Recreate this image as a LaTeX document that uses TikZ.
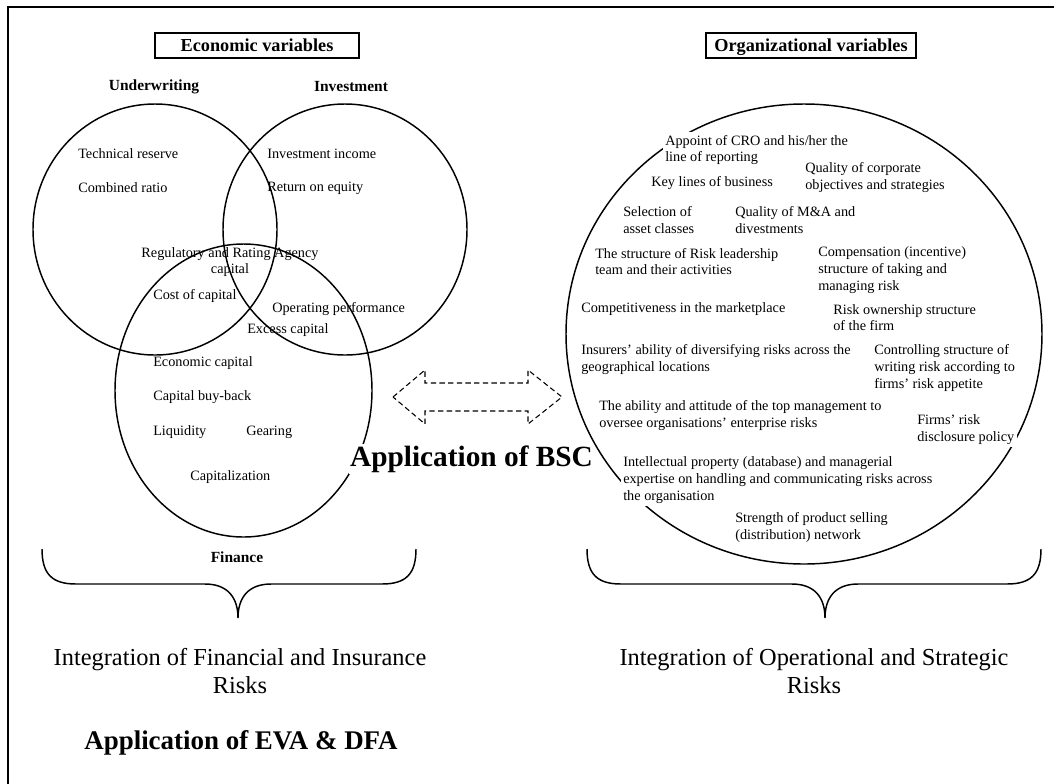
\documentclass[tikz,border=0pt]{standalone}
\usepackage{fontspec}
\setmainfont{Liberation Serif}
\usetikzlibrary{positioning}
\newcommand{\DrawBrace}[3]{
    \draw[braceLine] (#1,549) .. controls (#1,574) and (#1+10,584) .. (#1+34,584)
        -- (#2-33,584) .. controls (#2-10,584) and (#2,598) .. (#2,618)
        .. controls (#2,598) and (#2+10,584) .. (#2+33,584)
        -- (#3-34,584) .. controls (#3-10,584) and (#3,574) .. (#3,549);
}
\tikzset{
    % Common
    pxPic/.style={x=0.75pt, y=-0.75pt},
    frameLine/.style={line width=1.4pt},
    vennLine/.style={line width=1.1pt},
    braceLine/.style={line width=1.1pt},
    bscArrow/.style={line width=0.8pt, dash pattern=on 4pt off 2.5pt},
    % Text styles
    headBox/.style={draw, line width=1.1pt, font=\bfseries\fontsize{13.7}{16}\selectfont,
        minimum height=18.75pt, inner sep=0pt, text height=11pt, text depth=2.2pt},
    groupLabel/.style={font=\bfseries\fontsize{11.6}{14}\selectfont, inner sep=0pt},
    varText/.style={font=\fontsize{10.7}{12.5}\selectfont, anchor=west, align=left, inner sep=0pt},
    orgText/.style={varText, fill=white, inner sep=2pt, xshift=-2pt},
    riskText/.style={font=\fontsize{18.3}{21}\selectfont, align=center, inner sep=0pt},
    appText/.style={font=\bfseries\fontsize{20.2}{24}\selectfont, inner sep=0pt}
}
\begin{document}
\begin{tikzpicture}[pxPic]
    \useasboundingbox (0,0) rectangle (1054,783);
    % Outer frame (cut by the page)
    \draw[frameLine] (8,7) rectangle (1070,800);

    % Economic variables
    \node[headBox, minimum width=153pt] (econHead) at (257,45.5) {Economic variables};
    \draw[vennLine] (155,229.5) ellipse [x radius=122, y radius=125.5];
    \draw[vennLine] (345,229.5) ellipse [x radius=122, y radius=125.5];
    \draw[vennLine] (243.5,390.5) ellipse [x radius=128.5, y radius=146.5];
    \node[groupLabel] (underLabel) at (154,87) {Underwriting};
    \node[groupLabel] (investLabel) at (351,87) {Investment};
    \node[groupLabel] (financeLabel) at (237,557) {Finance};

    \node[varText] (techReserve) at (78,154) {Technical reserve};
    \node[varText] (combRatio) at (78,188) {Combined ratio};
    \node[varText] (investIncome) at (267,154) {Investment income};
    \node[varText] (returnEquity) at (267,188) {Return on equity};
    \node[varText, anchor=center, align=center] (regCapital) at (230,262) {Regulatory and Rating Agency\\capital};
    \node[varText] (costCapital) at (153,296) {Cost of capital};
    \node[varText] (operPerf) at (272,309) {Operating performance};
    \node[varText] (excessCapital) at (247,330) {Excess capital};
    \node[varText] (econCapital) at (153,363) {Economic capital};
    \node[varText] (buyBack) at (153,397) {Capital buy-back};
    \node[varText] (liquidity) at (153,432) {Liquidity};
    \node[varText] (gearing) at (246,432) {Gearing};
    \node[varText] (capitalization) at (190,477) {Capitalization};

    % Organizational variables
    \node[headBox, minimum width=157.5pt] (orgHead) at (811,45.5) {Organizational variables};
    \draw[vennLine] (804,334) ellipse [x radius=238, y radius=230];
    \node[orgText] (appointCro) at (665,150) {Appoint of CRO and his/her the\\line of reporting};
    \node[orgText] (keyLines) at (651,183) {Key lines of business};
    \node[orgText] (qualCorp) at (805,177.5) {Quality of corporate\\objectives and strategies};
    \node[orgText] (assetClass) at (623,220) {Selection of\\asset classes};
    \node[orgText] (qualMa) at (735,220) {Quality of M\&A and\\divestments};
    \node[orgText] (riskLead) at (595,261.5) {The structure of Risk leadership\\team and their activities};
    \node[orgText] (compensation) at (818,270) {Compensation (incentive)\\structure of taking and\\managing risk};
    \node[orgText] (compete) at (581,309) {Competitiveness in the marketplace};
    \node[orgText] (ownership) at (833,317.5) {Risk ownership structure\\of the firm};
    \node[orgText] (diversify) at (581,359.5) {Insurers’ ability of diversifying risks across the\\geographical locations};
    \node[orgText] (controlling) at (874,368) {Controlling structure of\\writing risk according to\\firms’ risk appetite};
    \node[orgText] (topMgmt) at (599,415.5) {The ability and attitude of the top management to\\oversee organisations’ enterprise risks};
    \node[orgText] (disclosure) at (917,429.5) {Firms’ risk\\disclosure policy};
    \node[orgText] (intellect) at (623,480) {Intellectual property (database) and managerial\\expertise on handling and communicating risks across\\the organisation};
    \node[orgText] (selling) at (735,527.5) {Strength of product selling\\(distribution) network};

    % Dashed double arrow
    \draw[bscArrow] (393,397) -- (425,370) -- (425,383) -- (528,383) -- (528,370) -- (562,397)
        -- (528,424) -- (528,411) -- (425,411) -- (425,424) -- cycle;
    \node[appText, font=\bfseries\fontsize{22}{26}\selectfont, fill=white, inner sep=1pt] (bscApp) at (471.5,459) {Application of BSC};

    % Braces and conclusions
    \DrawBrace{42}{238}{416}
    \DrawBrace{587}{825}{1041}
    \node[riskText] (finRisk) at (240,671) {Integration of Financial and Insurance\\Risks};
    \node[riskText] (opRisk) at (814,671) {Integration of Operational and Strategic\\Risks};
    \node[appText] (evaApp) at (241,743) {Application of EVA \& DFA};
\end{tikzpicture}
\end{document}
